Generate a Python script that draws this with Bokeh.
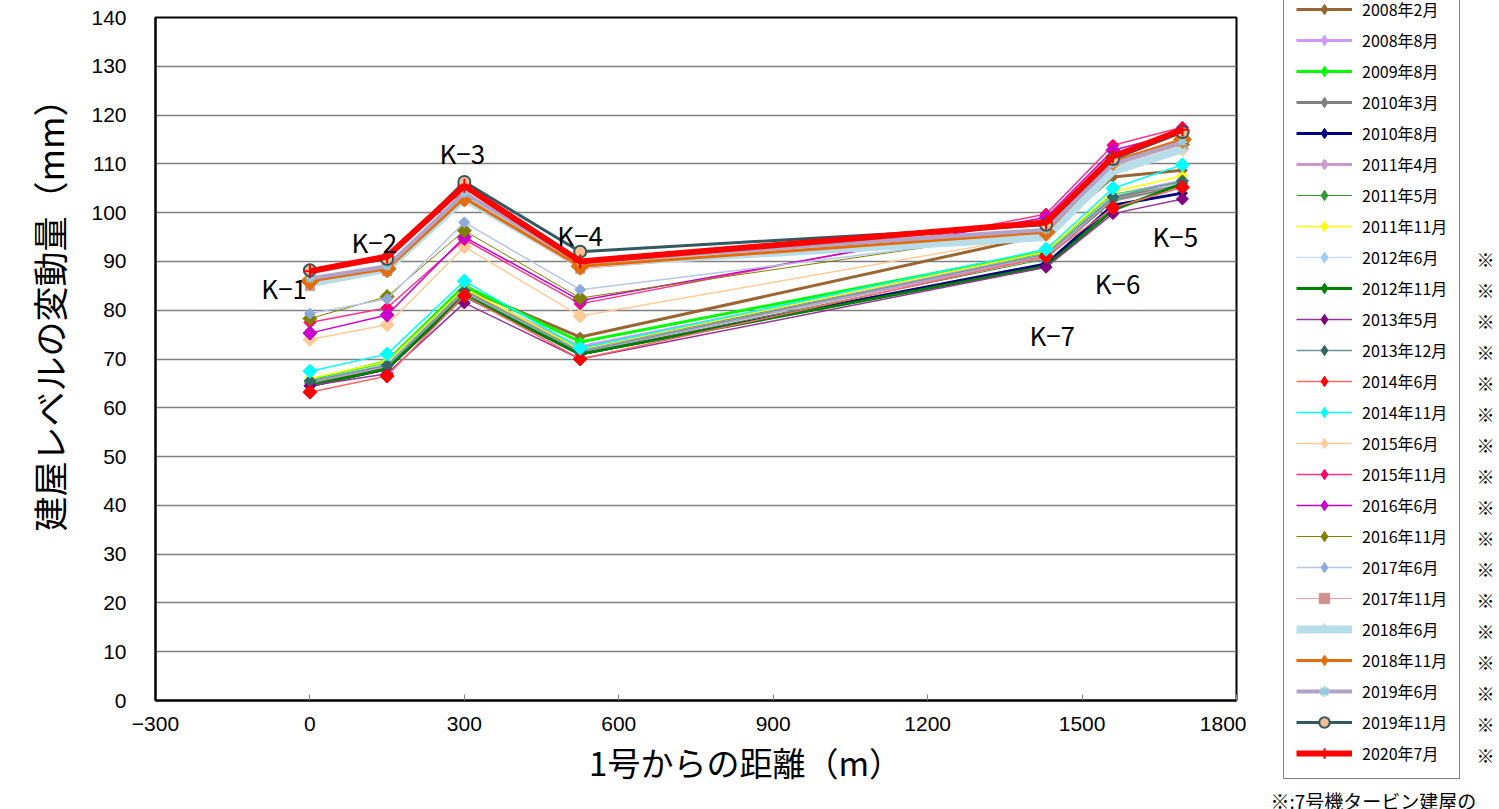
import math
from bokeh.plotting import figure
from bokeh.layouts import row, column
from bokeh.models import Legend, LegendItem, Label, FixedTicker, Range1d
from bokeh.core.properties import value
from bokeh.embed import file_html
from bokeh.resources import INLINE

# ---------------- data ----------------
distance = [0, 150, 300, 525, 1430, 1560, 1695]
point_names = ["K−1", "K−2", "K−3", "K−4", "K−7", "K−6", "K−5"]
point_label_x = [-50, 125, 296, 525, 1442, 1569, 1681]
point_label_y = [84.6, 94.0, 112.3, 95.5, 75.0, 85.7, 95.3]

series_names = ["2008年2月", "2008年8月", "2009年8月", "2010年3月", "2010年8月",
                "2011年4月", "2011年5月", "2011年11月", "2012年6月", "2012年11月",
                "2013年5月", "2013年12月", "2014年6月", "2014年11月", "2015年6月",
                "2015年11月", "2016年6月", "2016年11月", "2017年6月", "2017年11月",
                "2018年6月", "2018年11月", "2019年6月", "2019年11月", "2020年7月"]
marked_series = series_names[8:]   # entries with ※

v_2008_02 = [65.5, 69.5, 84.5, 74.5, 95.5, 107.3, 108.7]
v_2008_08 = [65.0, 69.0, 84.0, 72.5, 91.5, 103.5, 106.5]
v_2009_08 = [65.5, 69.5, 85.0, 73.5, 92.0, 103.5, 106.0]
v_2010_03 = [65.0, 68.5, 84.0, 72.0, 91.0, 103.0, 106.0]
v_2010_08 = [64.5, 68.0, 83.0, 71.0, 89.5, 101.5, 104.0]
v_2011_04 = [65.0, 68.5, 83.5, 71.5, 91.0, 102.5, 105.5]
v_2011_05 = [65.0, 68.0, 83.5, 71.0, 90.5, 102.5, 105.5]
v_2011_11 = [66.0, 69.5, 84.5, 72.0, 92.0, 104.3, 107.5]
v_2012_06 = [65.5, 69.0, 84.0, 71.5, 91.5, 103.5, 106.0]
v_2012_11 = [64.5, 68.0, 83.0, 71.0, 89.0, 100.5, 106.0]
v_2013_05 = [64.5, 67.0, 81.5, 70.0, 88.8, 99.8, 102.8]
v_2013_12 = [65.5, 68.7, 84.0, 71.5, 91.5, 103.2, 106.5]
v_2014_06 = [63.2, 66.5, 83.0, 70.0, 91.0, 101.0, 105.2]
v_2014_11 = [67.5, 71.0, 86.0, 72.2, 92.5, 105.0, 109.8]
v_2015_06 = [74.0, 77.0, 93.0, 78.8, 95.5, 109.0, 113.0]
v_2015_11 = [77.5, 80.5, 94.5, 81.3, 99.7, 113.8, 117.5]
v_2016_06 = [75.3, 79.0, 95.0, 82.0, 99.0, 112.8, 116.5]
v_2016_11 = [78.3, 82.8, 96.3, 82.5, 96.5, 110.0, 114.0]
v_2017_06 = [79.3, 82.3, 98.0, 84.2, 96.0, 109.0, 113.5]
v_2017_11 = [85.0, 88.0, 102.5, 88.5, 96.0, 109.5, 114.0]
v_2018_06 = [85.5, 88.5, 103.0, 89.5, 95.0, 108.5, 113.0]
v_2018_11 = [86.0, 88.5, 103.0, 89.0, 96.0, 110.5, 115.0]
v_2019_06 = [86.5, 89.0, 104.0, 90.0, 96.5, 110.0, 114.5]
v_2019_11 = [88.2, 90.5, 106.3, 92.0, 97.5, 111.0, 116.5]
v_2020_07 = [88.0, 91.0, 105.5, 90.0, 98.0, 111.5, 117.0]

series_values = [v_2008_02, v_2008_08, v_2009_08, v_2010_03, v_2010_08,
                 v_2011_04, v_2011_05, v_2011_11, v_2012_06, v_2012_11,
                 v_2013_05, v_2013_12, v_2014_06, v_2014_11, v_2015_06,
                 v_2015_11, v_2016_06, v_2016_11, v_2017_06, v_2017_11,
                 v_2018_06, v_2018_11, v_2019_06, v_2019_11, v_2020_07]

x_ticks = [-300, 0, 300, 600, 900, 1200, 1500, 1800]
y_ticks = list(range(0, 141, 10))
x_title = "1号からの距離（m）"
y_title = "建屋レベルの変動量（mm）"
footnote = "※:7号機タービン建屋の"

# ---------------- styles ----------------
# (line color, line width, marker, marker size, fill color, marker line color)
D = "diamond"
styles = [
    ("#996633", 3, D, 10, "#996633", "#996633"),
    ("#CC99FF", 3, D, 10, "#CC99FF", "#CC99FF"),
    ("#00FF00", 3, D, 10, "#00FF00", "#00FF00"),
    ("#808080", 3, D, 10, "#808080", "#808080"),
    ("#000080", 3, D, 10, "#000080", "#000080"),
    ("#CC99CC", 3, D, 10, "#CC99CC", "#CC99CC"),
    ("#339933", 1, D, 10, "#339933", "#339933"),
    ("#FFFF00", 1.5, D, 10, "#FFFF00", "#FFFF00"),
    ("#CCE0FF", 1.5, D, 10, "#99CCFF", "#99CCFF"),
    ("#008000", 3, D, 10, "#008000", "#008000"),
    ("#993399", 1.5, D, 12, "#800080", "#800080"),
    ("#6E9999", 1.5, D, 12, "#336666", "#336666"),
    ("#FF6666", 1.5, D, 14, "#FF0000", "#FF0000"),
    ("#00FFFF", 1.5, D, 14, "#00FFFF", "#00FFFF"),
    ("#FFCC99", 1.5, D, 14, "#FFCC99", "#FFCC99"),
    ("#FF3388", 1.5, D, 12, "#FF0066", "#FF0066"),
    ("#CC00CC", 1.5, D, 14, "#CC00CC", "#CC00CC"),
    ("#808000", 1, D, 14, "#808000", "#808000"),
    ("#B4C7E7", 1.5, D, 11, "#8EA9DB", "#8EA9DB"),
    ("#E6A0A0", 1, "square", 9, "#D09090", "#D09090"),
    ("#B7DDE8", 8, "triangle", 9, "#B7DDE8", "#B7DDE8"),
    ("#E46C0A", 3, D, 18, "#E46C0A", "#E46C0A"),
    ("#B3A2C7", 4, "asterisk", 9, "#93CDDD", "#93CDDD"),
    ("#31595F", 3, "circle", 12, "#FABF8F", "#31595F"),
    ("#FF0000", 6, "cross", 14, "#FF0000", "#FF0000"),
]

JP = "Noto Sans CJK JP"


def draw_series(fig, xs, ys, st, for_legend=False):
    lc, lw, mk, ms, fc, mlc = st
    r1 = fig.line(xs, ys, line_color=lc, line_width=lw)
    if mk == D:
        if for_legend:
            r2 = fig.scatter(xs, ys, marker="diamond", size=10,
                             fill_color=fc, line_color=mlc)
        else:
            r2 = fig.scatter(xs, ys, marker="square", angle=math.pi / 4,
                             size=ms / 1.414, fill_color=fc, line_color=mlc)
    elif mk in ("cross", "asterisk"):
        r2 = fig.scatter(xs, ys, marker=mk, size=ms, line_color=mlc, line_width=2)
    else:
        r2 = fig.scatter(xs, ys, marker=mk, size=ms, fill_color=fc,
                         line_color=mlc, line_width=2 if mk == "circle" else 1)
    return r1, r2


H = 809
# ---------------- main chart ----------------
p = figure(width=1246, height=H, output_backend="svg", toolbar_location=None,
           x_range=Range1d(-300, 1800), y_range=Range1d(0, 140),
           min_border_left=155, min_border_right=10, min_border_top=17,
           min_border_bottom=109)

p.outline_line_color = "black"
p.outline_line_width = 2
p.xgrid.grid_line_color = None
p.ygrid.grid_line_color = "#808080"
p.ygrid.grid_line_width = 1.5
p.ygrid.ticker = FixedTicker(ticks=y_ticks)

p.xaxis.ticker = FixedTicker(ticks=x_ticks)
p.yaxis.ticker = FixedTicker(ticks=y_ticks)
p.xaxis.major_label_overrides = {-300: "−300"}
for ax in (p.xaxis[0], p.yaxis[0]):
    ax.axis_line_color = "black"
    ax.axis_line_width = 2
    ax.major_label_text_font = "Liberation Sans"
    ax.major_label_text_font_size = "21px"
    ax.major_label_text_color = "black"
    ax.minor_tick_line_color = None
    ax.axis_label_text_font = JP
    ax.axis_label_text_font_style = "normal"
    ax.axis_label_text_color = "black"
p.xaxis.axis_label_text_font_size = "33px"
p.yaxis.axis_label_text_font_size = "35px"
p.xaxis.major_tick_in = 6
p.xaxis.major_tick_out = 0
p.xaxis.major_tick_line_color = "#808080"
p.yaxis.major_tick_in = 0
p.yaxis.major_tick_out = 0
p.yaxis.major_label_standoff = 29
p.xaxis.major_label_standoff = 16
# leading ideographic spaces shift the centred titles as in the original layout
p.xaxis.axis_label = "\u3000\u3000\u3000" + x_title
p.yaxis.axis_label = "\u3000\u3000\u3000" + y_title
p.xaxis.axis_label_standoff = 4
p.yaxis.axis_label_standoff = 14

for vals, st in zip(series_values, styles):
    draw_series(p, distance, vals, st)

for nm, lx, ly in zip(point_names, point_label_x, point_label_y):
    p.add_layout(Label(x=lx, y=ly, text=nm, text_font=JP, text_font_size="26px",
                       text_align="center", text_baseline="middle", text_color="black"))

# ---------------- legend panel ----------------
LW = 253
q = figure(width=LW, height=H, output_backend="svg", toolbar_location=None,
           x_range=Range1d(0, LW), y_range=Range1d(0, H),
           x_axis_location=None, y_axis_location=None,
           min_border=0, min_border_left=0, min_border_right=0,
           min_border_top=0, min_border_bottom=0)
q.outline_line_color = None
q.grid.grid_line_color = None

items = []
for name, st in zip(series_names, styles):
    # one point placed outside the visible range; it only feeds the legend glyph
    r1, r2 = draw_series(q, [-100], [-100], st, for_legend=True)
    items.append(LegendItem(label=name, renderers=[r1, r2]))

PAD = 12
GH = 26
BOTTOM_ROW = 55          # centre of last legend row, from the bottom of the panel
ROW = 31
legend = Legend(items=items, location=(37, BOTTOM_ROW - PAD - GH / 2))
legend.label_text_font = JP
legend.label_text_font_size = "16px"
legend.label_text_color = "black"
legend.glyph_width = 56
legend.glyph_height = GH
legend.label_height = 20
legend.spacing = ROW - GH
legend.padding = PAD
legend.margin = 0
legend.label_standoff = 10
legend.border_line_color = "black"
legend.border_line_width = 1.5
legend.background_fill_color = "white"
legend.background_fill_alpha = 1
q.add_layout(legend, "center")

# ※ marks beside legend entries (legend rows counted from the bottom row)
n = len(series_names)
mark_x = [239 for nm in series_names if nm in marked_series]
mark_y = [BOTTOM_ROW + ROW * (n - 1 - i) for i, nm in enumerate(series_names) if nm in marked_series]
q.text(mark_x, mark_y, text=["※"] * len(mark_x), text_font=value(JP),
       text_font_size="18px", text_align="center", text_baseline="middle",
       text_color="black")

q.text([24], [9], text=[footnote], text_font=value(JP), text_font_size="19px",
       text_align="left", text_baseline="middle", text_color="black")

layout = row(p, column(q), spacing=0)
open("out.html", "w").write(file_html(layout, INLINE))
